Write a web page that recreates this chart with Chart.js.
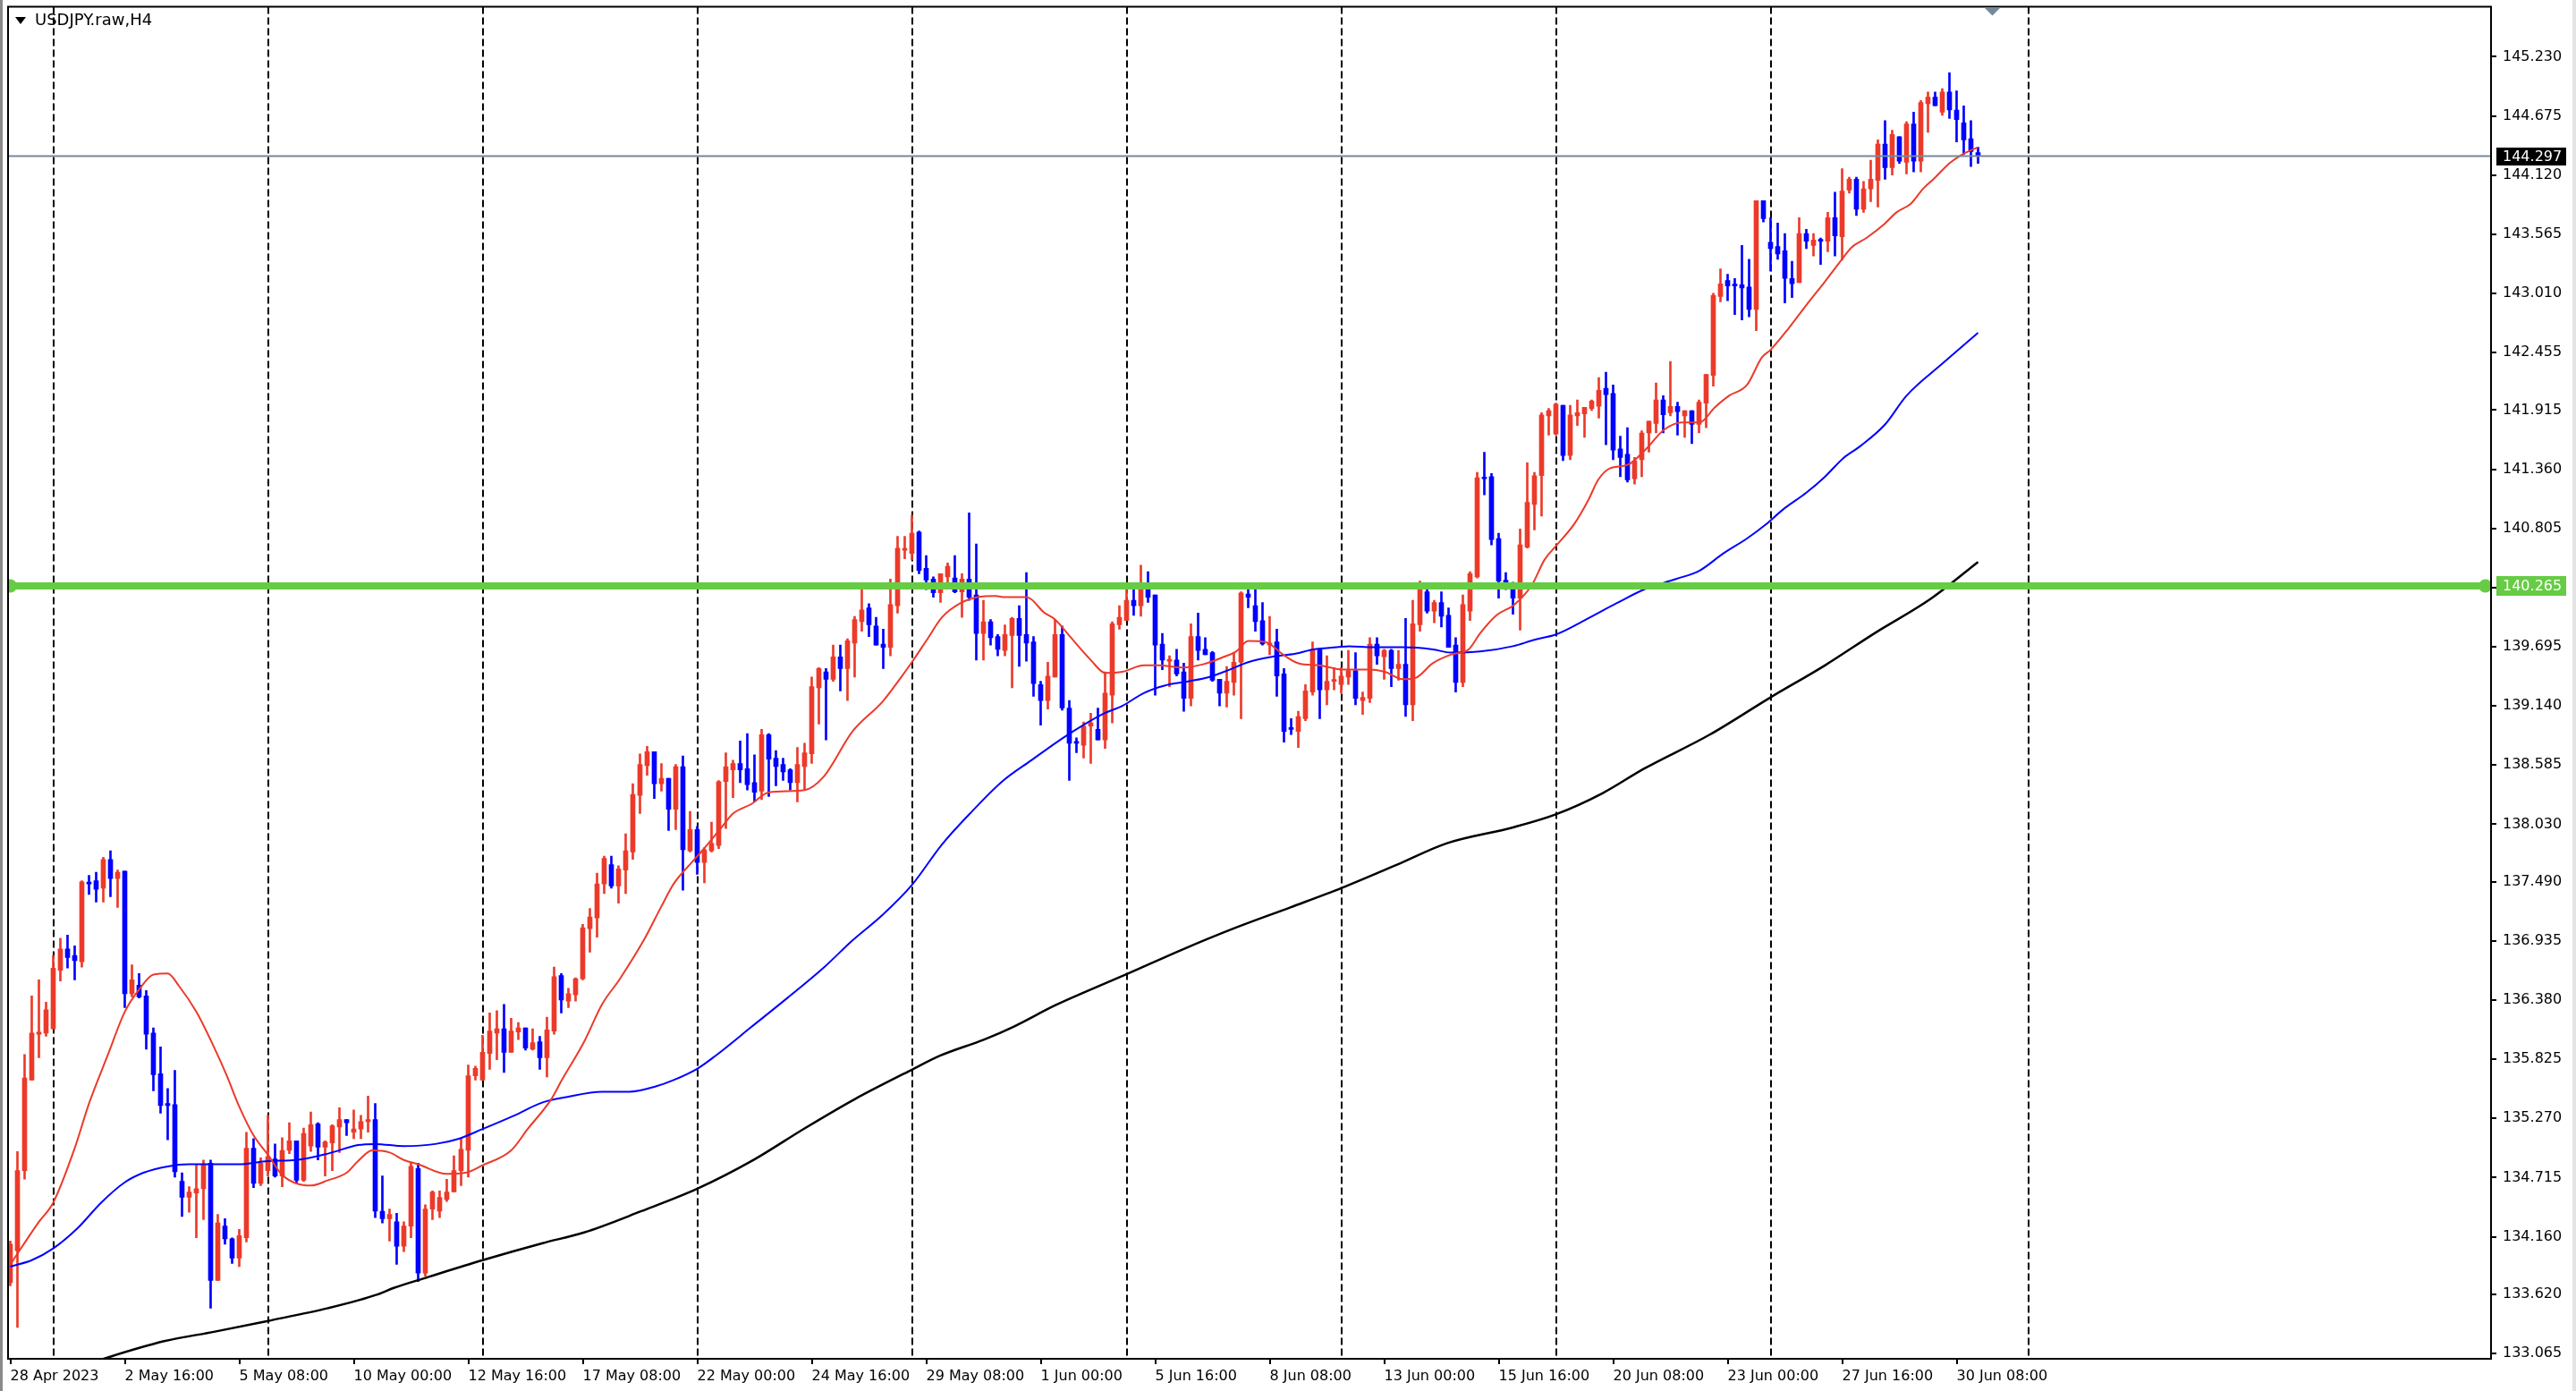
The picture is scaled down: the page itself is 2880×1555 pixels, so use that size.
<!DOCTYPE html>
<html>
<head>
<meta charset="utf-8">
<title>USDJPY.raw,H4</title>
<script src="https://cdn.jsdelivr.net/npm/chart.js@4.4.0/dist/chart.umd.min.js"></script>
<style>
  html, body { margin: 0; padding: 0; background: #fff; overflow: hidden; }
  canvas { display: block; }
</style>
</head>
<body>
<canvas id="chart" width="2880" height="1555"></canvas>
<script>
// H4 candles, bar 0 = 28 Apr 2023 00:00
var opens = [
  133.73,134.03,134.78,135.63,136.06,136.07,136.11,136.66,136.86,136.80,
  136.74,137.48,137.50,137.43,137.70,137.52,137.59,136.44,136.52,136.42,
  136.07,135.69,135.41,135.40,134.68,134.53,134.57,134.61,134.85,133.75,
  134.26,134.14,133.96,134.15,134.99,134.66,134.78,134.89,134.73,134.97,
  135.06,134.69,135.01,135.22,135.00,135.04,135.19,135.26,135.14,135.17,
  135.24,135.26,134.40,134.33,134.30,134.07,134.26,134.80,133.82,134.42,
  134.40,134.51,134.58,134.78,134.97,135.67,135.63,135.88,136.07,136.11,
  135.89,136.08,136.12,135.92,135.99,135.84,136.09,136.61,136.37,136.43,
  136.58,137.05,137.15,137.47,137.65,137.45,137.60,137.77,138.30,138.58,
  138.71,138.41,138.46,138.17,138.57,137.78,137.98,137.67,137.78,137.83,
  138.43,138.54,138.60,138.55,138.42,138.34,138.87,138.65,138.59,138.54,
  138.42,138.57,138.69,139.31,139.46,139.39,139.60,139.49,139.73,139.93,
  140.06,139.89,139.72,139.69,140.08,140.60,140.57,140.77,140.43,140.33,
  140.20,140.35,140.34,140.21,140.33,140.18,139.82,139.93,139.79,139.66,
  139.80,139.96,139.81,139.74,139.34,139.19,139.41,139.81,139.12,138.80,
  138.77,138.95,138.92,138.82,139.24,139.90,139.94,140.13,140.08,140.28,
  140.18,139.72,139.56,139.57,139.46,139.21,139.79,139.67,139.64,139.39,
  139.26,139.36,139.55,140.19,140.08,139.94,139.71,139.74,139.44,138.93,
  138.90,139.02,139.27,139.67,139.29,139.37,139.34,139.41,139.47,139.19,
  139.21,139.72,139.60,139.66,139.49,139.53,139.15,139.90,140.21,140.03,
  140.11,139.99,139.71,139.36,140.03,140.35,141.28,141.29,140.71,140.32,
  140.29,140.15,140.63,141.03,141.30,141.86,141.69,141.96,141.49,141.86,
  141.88,141.93,141.95,142.12,142.07,141.55,141.50,141.27,141.45,141.70,
  141.79,142.01,141.89,141.95,141.86,141.91,141.78,141.98,142.24,142.98,
  143.13,143.09,143.09,143.07,142.86,143.88,143.49,143.45,143.41,143.15,
  143.11,143.57,143.46,143.51,143.50,143.72,143.54,143.98,144.08,143.80,
  143.99,144.07,144.41,144.19,144.48,144.24,144.60,144.25,144.79,144.85,
  144.71,144.90,144.73,144.61,144.46,144.33
];
var highs = [
  134.12,134.96,135.87,136.42,136.57,136.36,136.80,136.96,136.99,136.89,
  137.50,137.55,137.58,137.72,137.78,137.60,137.59,136.71,136.63,136.47,
  136.12,135.94,135.55,135.72,134.76,134.63,134.84,134.88,134.88,134.37,
  134.33,134.15,134.23,135.14,135.08,134.90,135.30,135.03,135.09,135.23,
  135.06,135.18,135.33,135.23,135.06,135.21,135.37,135.26,135.35,135.30,
  135.48,135.41,134.73,134.42,134.38,134.30,134.85,134.85,134.46,134.59,
  134.59,134.70,134.92,135.08,135.77,135.76,136.05,136.26,136.28,136.34,
  136.21,136.17,136.12,136.11,136.04,136.22,136.69,136.63,136.49,136.59,
  137.09,137.24,137.57,137.73,137.73,137.64,137.94,138.41,138.69,138.76,
  138.71,138.60,138.46,138.59,138.67,138.15,138.01,137.81,138.05,138.44,
  138.70,138.63,138.81,138.88,138.68,138.92,138.88,138.72,138.65,138.55,
  138.75,138.79,139.41,139.50,139.49,139.71,139.71,139.77,139.98,140.24,
  140.10,139.97,139.86,140.33,140.73,140.73,140.93,140.78,140.55,140.35,
  140.38,140.48,140.55,140.38,140.95,140.66,140.13,139.95,139.81,139.90,
  139.97,140.08,140.39,139.79,139.37,139.55,139.95,139.89,139.19,138.84,
  138.99,139.07,139.12,139.46,139.93,140.08,140.28,140.24,140.46,140.40,
  140.18,139.82,139.61,139.67,139.54,139.91,140.01,139.78,139.65,139.39,
  139.51,139.64,140.21,140.26,140.24,140.11,139.98,139.86,139.49,139.02,
  139.09,139.34,139.74,139.68,139.61,139.50,139.50,139.66,139.64,139.27,
  139.78,139.78,139.67,139.67,139.66,139.96,140.13,140.31,140.29,140.13,
  140.21,140.06,139.78,140.18,140.40,141.33,141.52,141.32,140.76,140.39,
  140.30,140.80,141.42,141.33,141.89,141.93,141.98,141.96,141.96,142.01,
  141.94,142.01,142.22,142.27,142.15,141.67,141.75,141.47,141.72,141.81,
  142.17,142.05,142.37,141.99,141.91,141.91,142.01,142.25,143.01,143.24,
  143.19,143.15,143.46,143.33,143.88,143.88,143.72,143.67,143.57,143.31,
  143.72,143.61,143.57,143.53,143.77,143.96,144.18,144.10,144.10,144.06,
  144.26,144.45,144.63,144.54,144.48,144.62,144.71,144.82,144.90,144.90,
  144.93,145.08,144.91,144.77,144.63,144.38
];
var lows = [
  133.70,133.31,134.70,135.63,135.84,136.04,136.11,136.56,136.68,136.57,
  136.69,137.37,137.30,137.30,137.35,137.25,136.31,136.41,136.40,135.92,
  135.53,135.32,135.07,134.72,134.35,134.39,134.15,134.32,133.49,133.75,
  134.09,133.91,133.88,134.11,134.62,134.64,134.73,134.72,134.63,134.94,
  134.66,134.68,134.96,134.88,134.73,134.78,134.95,135.11,135.08,135.08,
  135.14,134.34,134.29,134.12,133.90,134.02,134.15,133.74,133.79,134.32,
  134.34,134.49,134.58,134.64,134.72,135.63,135.63,135.73,135.82,135.70,
  135.89,136.01,135.91,135.91,135.73,135.66,136.06,136.26,136.31,136.37,
  136.57,136.83,136.97,137.38,137.43,137.29,137.38,137.70,138.13,138.49,
  138.27,138.34,137.97,137.98,137.41,137.77,137.56,137.48,137.77,137.80,
  137.99,138.28,138.42,138.35,138.24,138.26,138.29,138.39,138.44,138.35,
  138.24,138.35,138.60,138.97,138.82,139.37,139.28,139.19,139.41,139.84,
  139.79,139.71,139.49,139.61,140.01,140.52,140.51,140.38,140.23,140.16,
  140.11,140.30,140.20,139.97,140.13,139.57,139.57,139.71,139.61,139.61,
  139.31,139.51,139.56,139.23,138.96,139.11,139.41,139.10,138.44,138.70,
  138.65,138.60,138.82,138.74,138.98,139.86,139.94,139.99,139.98,140.11,
  139.24,139.48,139.32,139.42,139.09,139.14,139.57,139.62,139.37,139.14,
  139.13,139.24,139.02,140.06,139.84,139.71,139.62,139.23,138.80,138.87,
  138.75,139.00,139.24,139.02,139.15,139.29,139.26,139.34,139.15,139.06,
  139.17,139.53,139.39,139.32,139.38,139.04,139.00,139.84,140.01,139.92,
  139.88,139.69,139.27,139.32,139.94,140.34,141.12,140.65,140.15,140.23,
  140.00,139.85,140.62,140.79,140.92,141.68,141.68,141.44,141.45,141.77,
  141.66,141.91,141.84,141.59,141.45,141.29,141.24,141.22,141.29,141.52,
  141.70,141.70,141.86,141.68,141.66,141.60,141.70,141.75,142.14,142.93,
  142.94,142.81,142.76,142.79,142.66,143.68,143.22,143.33,142.92,142.97,
  143.11,143.43,143.36,143.28,143.40,143.36,143.32,143.95,143.74,143.77,
  143.87,143.82,144.08,144.12,144.23,144.13,144.15,144.15,144.52,144.77,
  144.68,144.65,144.43,144.31,144.20,144.23
];
var closes = [
  134.09,134.78,135.65,136.07,136.08,136.29,136.68,136.86,136.78,136.75,
  137.49,137.47,137.42,137.70,137.52,137.58,136.44,136.57,136.41,136.06,
  135.68,135.39,135.39,134.77,134.53,134.58,134.61,134.84,133.75,134.29,
  134.14,133.96,134.17,134.99,134.66,134.85,134.91,134.73,134.97,135.06,
  134.69,135.13,135.21,135.00,135.05,135.20,135.26,135.23,135.17,135.24,
  135.26,134.40,134.33,134.37,134.07,134.26,134.82,133.82,134.42,134.58,
  134.53,134.58,134.78,134.98,135.67,135.74,135.89,136.09,136.11,135.89,
  136.09,136.12,135.93,135.98,135.84,136.10,136.60,136.38,136.44,136.58,
  137.06,137.16,137.47,137.71,137.45,137.61,137.78,138.31,138.59,138.71,
  138.41,138.46,138.17,138.57,137.79,137.98,137.67,137.79,137.85,138.43,
  138.57,138.60,138.54,138.40,138.33,138.87,138.64,138.57,138.52,138.42,
  138.59,138.70,139.32,139.49,139.39,139.60,139.49,139.75,139.95,140.04,
  139.90,139.71,139.69,140.09,140.62,140.61,140.76,140.41,140.32,140.20,
  140.38,140.45,140.21,140.33,140.16,139.82,139.93,139.78,139.67,139.81,
  139.96,139.80,139.73,139.35,139.19,139.42,139.81,139.12,138.79,138.79,
  138.95,138.98,138.82,139.26,139.91,139.97,140.13,140.08,140.28,140.16,
  139.71,139.57,139.57,139.44,139.21,139.79,139.66,139.62,139.38,139.26,
  139.37,139.55,140.20,140.16,139.93,139.72,139.73,139.42,138.90,138.92,
  139.04,139.28,139.67,139.29,139.37,139.38,139.42,139.47,139.21,139.22,
  139.72,139.61,139.66,139.49,139.53,139.15,139.91,140.23,140.03,140.11,
  139.98,139.69,139.36,140.09,140.38,141.28,141.27,140.70,140.31,140.28,
  140.15,140.65,141.05,141.30,141.87,141.91,141.97,141.49,141.87,141.89,
  141.94,142.00,142.10,142.06,141.54,141.47,141.26,141.44,141.70,141.81,
  142.01,141.87,141.95,141.90,141.91,141.78,141.99,142.25,142.99,143.10,
  143.08,143.08,143.06,142.86,143.88,143.71,143.43,143.38,143.15,143.10,
  143.57,143.50,143.51,143.50,143.72,143.55,143.97,144.08,143.80,143.99,
  144.08,144.41,144.19,144.50,144.25,144.60,144.25,144.80,144.85,144.77,
  144.90,144.73,144.64,144.45,144.34,144.30
];

// moving averages at sample bars
var redMaBars = [0,4,6,9,11,13.6,16,18,20,22,23.6,26,28.6,30.2,32,34,36,38,40,42,44.4,47,48.6,50.6,53,55,57,61,63.6,66,70,72.3,75.6,77,80.2,82.7,85.2,88.6,91,92.7,95.2,96.8,99.4,101,103.6,106,111,113.6,117.7,121.9,124.4,126,128.1,130.2,132.7,135.2,137.7,139,142,142.7,144.4,146,148.1,151,153,155.4,158.4,160.5,163.8,166.7,169.6,171.3,173,175.4,177.9,180,182.9,186.3,189.6,192.1,194.6,196.3,198.8,201.3,203.8,205.4,207.7,210.2,212.7,214.4,216,218.6,220.6,221.9,223.6,226,228.6,231.1,233.6,236.1,238.2,240.2,242.7,244.8,246,248.5,251,253.6,256.1,257.3,259.4,261.9,263.6,265.6,267.3,268.9,271,272.7,273.9,275];
var redMaValues = [133.90,134.30,134.48,134.99,135.41,135.86,136.27,136.48,136.62,136.63,136.51,136.27,135.92,135.68,135.38,135.11,134.93,134.74,134.66,134.64,134.69,134.76,134.87,134.97,134.95,134.88,134.84,134.75,134.76,134.83,134.97,135.17,135.45,135.62,135.99,136.34,136.58,136.95,137.26,137.47,137.67,137.79,138.00,138.13,138.22,138.33,138.35,138.47,138.90,139.18,139.40,139.55,139.76,139.97,140.10,140.16,140.17,140.16,140.16,140.14,140.02,139.95,139.79,139.57,139.45,139.46,139.52,139.52,139.50,139.53,139.60,139.65,139.75,139.74,139.62,139.54,139.52,139.48,139.48,139.46,139.39,139.40,139.54,139.62,139.67,139.82,139.99,140.09,140.28,140.51,140.64,140.85,141.08,141.26,141.37,141.40,141.55,141.73,141.80,141.80,141.94,142.05,142.15,142.41,142.48,142.68,142.90,143.12,143.34,143.44,143.53,143.66,143.77,143.85,143.99,144.09,144.23,144.31,144.35,144.38];

var blueMaBars = [0,3,6,9.4,12.7,16,18.6,22,25,32,36,40,44.4,48.6,51,55,59.4,62.7,66,70.2,74.4,77.7,82.7,86.5,90.2,92.7,96.1,98.6,103.6,108.6,113.6,117.7,121.9,126,130.2,134.4,138.6,142.7,146.9,150.2,152.9,155.4,158.4,161.3,164.6,167.5,170.4,173,176.3,179.6,182.1,185.4,187.1,190.4,194.6,198.8,201.3,205.4,210,213,216,220.2,224.4,228.6,232.8,236.1,239.4,242.7,245.3,247.7,251,253.6,256.1,258.6,262,265,270,275];
var blueMaValues = [133.88,133.94,134.05,134.24,134.48,134.67,134.76,134.82,134.84,134.84,134.87,134.88,134.94,135.02,135.03,135.01,135.03,135.08,135.17,135.29,135.42,135.47,135.52,135.52,135.57,135.63,135.74,135.86,136.13,136.40,136.68,136.94,137.18,137.46,137.84,138.15,138.43,138.63,138.83,138.97,139.07,139.14,139.26,139.33,139.37,139.41,139.48,139.55,139.60,139.63,139.67,139.69,139.70,139.69,139.69,139.67,139.64,139.65,139.70,139.76,139.81,139.95,140.10,140.24,140.33,140.41,140.57,140.71,140.84,140.98,141.14,141.29,141.46,141.58,141.78,142.05,142.35,142.64];

var blackMaBars = [10,12.3,21.5,28.6,36,44.4,51.4,53.6,58.3,66,74.4,80.2,88.2,96,103.6,111.1,118,125.8,130,136.1,140.2,146,150,155.9,164,170.9,178.9,186,193.8,200.7,210,215.9,222.5,228.3,237.5,246,253.6,260.5,268.5,275];
var blackMaValues = [132.95,133.00,133.18,133.27,133.37,133.49,133.62,133.68,133.78,133.94,134.10,134.20,134.40,134.61,134.87,135.18,135.45,135.72,135.86,136.01,136.13,136.33,136.45,136.62,136.86,137.05,137.25,137.43,137.65,137.85,138.00,138.12,138.32,138.55,138.87,139.22,139.52,139.82,140.15,140.49];

var bidPrice = 144.297;
var levelPrice = 140.265;
var levelFromBar = 0;
var levelToBar = 345.9;

var separatorBars = [6, 36, 66, 96, 126, 156, 186, 216, 246, 282];
var shiftBar = 277;

var xTickBars = [0,16,32,48,64,80,96,112,128,144,160,176,192,208,224,240,256,272];
var xTickLabels = ["28 Apr 2023","2 May 16:00","5 May 08:00","10 May 00:00","12 May 16:00","17 May 08:00","22 May 00:00","24 May 16:00","29 May 08:00","1 Jun 00:00","5 Jun 16:00","8 Jun 08:00","13 Jun 00:00","15 Jun 16:00","20 Jun 08:00","23 Jun 00:00","27 Jun 16:00","30 Jun 08:00"];

var yTicks = [133.065,133.620,134.160,134.715,135.270,135.825,136.380,136.935,137.490,138.030,138.585,139.140,139.695,140.250,140.805,141.360,141.915,142.455,143.010,143.565,144.120,144.675,145.230];

var X_MIN = -0.3125, X_MAX = 346.6875;
var Y_MIN = 133.015, Y_MAX = 145.699;

var UP = "#ec3a2a";
var DOWN = "#0000ff";
var LEVEL = "#66cc44";
var BID = "#778899";
var FONT = "DejaVu Sans";

function pts(bars, vals) {
  return bars.map(function (b, i) { return { x: b, y: vals[i] }; });
}

var candleColors = closes.map(function (c, i) { return c >= opens[i] ? UP : DOWN; });

var mtDecor = {
  id: "mtDecor",
  beforeDraw: function (chart) {
    var ctx = chart.ctx;
    ctx.save();
    ctx.fillStyle = "#ffffff";
    ctx.fillRect(0, 0, chart.width, chart.height);
    ctx.fillStyle = "#8a8a8a";
    ctx.fillRect(0, 0, 3, chart.height);
    ctx.fillStyle = "#e4e4e4";
    ctx.fillRect(chart.width - 4, 0, 4, chart.height);
    ctx.restore();
  },
  beforeDatasetsDraw: function (chart) {
    var ctx = chart.ctx, a = chart.chartArea, x = chart.scales.x;
    ctx.save();
    ctx.strokeStyle = "#000";
    ctx.lineWidth = 2;
    ctx.setLineDash([8, 4]);
    separatorBars.forEach(function (b) {
      var px = Math.round(x.getPixelForValue(b));
      ctx.beginPath();
      ctx.moveTo(px, a.top);
      ctx.lineTo(px, a.bottom);
      ctx.stroke();
    });
    ctx.restore();
  },
  afterDatasetsDraw: function (chart) {
    var ctx = chart.ctx, a = chart.chartArea, x = chart.scales.x, y = chart.scales.y;
    ctx.save();
    // frame
    ctx.strokeStyle = "#000";
    ctx.lineWidth = 2;
    ctx.strokeRect(a.left, a.top, a.right - a.left, a.bottom - a.top);

    // price labels on the axis
    ctx.font = "16px '" + FONT + "'";
    ctx.textBaseline = "middle";
    ctx.textAlign = "left";
    var yb = Math.round(y.getPixelForValue(bidPrice));
    ctx.fillStyle = "#000";
    ctx.fillRect(a.right + 6, yb - 10, 78, 20);
    ctx.fillStyle = "#fff";
    ctx.fillText(bidPrice.toFixed(3), a.right + 13, yb + 1);

    var yl = Math.round(y.getPixelForValue(levelPrice));
    ctx.fillStyle = LEVEL;
    ctx.fillRect(a.right + 6, yl - 11, 78, 22);
    ctx.fillStyle = "#fff";
    ctx.fillText(levelPrice.toFixed(3), a.right + 13, yl + 1);

    // symbol title
    ctx.fillStyle = "#000";
    ctx.beginPath();
    ctx.moveTo(17, 19);
    ctx.lineTo(29, 19);
    ctx.lineTo(23, 27);
    ctx.closePath();
    ctx.fill();
    ctx.font = "18px '" + FONT + "'";
    ctx.fillText("USDJPY.raw,H4", 39, 23);

    // chart shift marker
    var sx = x.getPixelForValue(shiftBar);
    ctx.fillStyle = BID;
    ctx.beginPath();
    ctx.moveTo(sx - 9, a.top + 1);
    ctx.lineTo(sx + 9, a.top + 1);
    ctx.lineTo(sx, a.top + 10);
    ctx.closePath();
    ctx.fill();
    ctx.restore();
  }
};

var ctx = document.getElementById("chart");
var myChart = new Chart(ctx, {
  type: "line",
  data: {
    datasets: [
      {
        type: "line",
        data: [{ x: levelFromBar, y: levelPrice }, { x: levelToBar, y: levelPrice }],
        borderColor: LEVEL,
        borderWidth: 8,
        pointRadius: 7.5,
        pointBackgroundColor: LEVEL,
        pointBorderWidth: 0,
        clip: 0,
        order: 0
      },
      {
        type: "line",
        data: [{ x: X_MIN, y: bidPrice }, { x: X_MAX, y: bidPrice }],
        borderColor: BID,
        borderWidth: 2,
        pointRadius: 0,
        order: 1
      },
      {
        type: "line",
        data: pts(redMaBars, redMaValues),
        borderColor: UP,
        borderWidth: 2,
        pointRadius: 0,
        cubicInterpolationMode: "monotone",
        order: 2
      },
      {
        type: "line",
        data: pts(blueMaBars, blueMaValues),
        borderColor: DOWN,
        borderWidth: 2,
        pointRadius: 0,
        cubicInterpolationMode: "monotone",
        order: 2
      },
      {
        type: "line",
        data: pts(blackMaBars, blackMaValues),
        borderColor: "#000",
        borderWidth: 2.5,
        pointRadius: 0,
        cubicInterpolationMode: "monotone",
        order: 2
      },
      {
        type: "bar",
        data: closes.map(function (c, i) { return { x: i, y: [opens[i], c] }; }),
        backgroundColor: candleColors,
        barThickness: 5,
        minBarLength: 2,
        grouped: false,
        borderWidth: 0,
        order: 3
      },
      {
        type: "bar",
        data: highs.map(function (h, i) { return { x: i, y: [lows[i], h] }; }),
        backgroundColor: candleColors,
        barThickness: 2,
        grouped: false,
        borderWidth: 0,
        order: 4
      }
    ]
  },
  options: {
    responsive: false,
    animation: false,
    events: [],
    layout: { padding: { left: 9, top: 5, right: 0, bottom: 0 } },
    plugins: {
      legend: { display: false },
      tooltip: { enabled: false }
    },
    scales: {
      x: {
        type: "linear",
        position: "bottom",
        offset: false,
        min: X_MIN,
        max: X_MAX,
        bounds: "data",
        afterBuildTicks: function (s) {
          s.ticks = xTickBars.map(function (v) { return { value: v }; });
        },
        afterFit: function (s) {
          s.height = 36;
          s.paddingLeft = 0;
          s.paddingRight = 0;
        },
        border: { display: false },
        grid: { offset: false, drawOnChartArea: false, drawTicks: true, tickLength: 6, color: "#000", lineWidth: 2 },
        ticks: {
          autoSkip: false,
          maxRotation: 0,
          minRotation: 0,
          align: "start",
          padding: 4,
          color: "#000",
          font: { family: FONT, size: 16 },
          callback: function (value, index) { return xTickLabels[index]; }
        }
      },
      y: {
        type: "linear",
        position: "right",
        offset: false,
        min: Y_MIN,
        max: Y_MAX,
        bounds: "data",
        afterBuildTicks: function (s) {
          s.ticks = yTicks.map(function (v) { return { value: v }; });
        },
        afterFit: function (s) {
          s.width = 95;
          s.paddingTop = 0;
          s.paddingBottom = 0;
        },
        border: { display: false },
        grid: { drawOnChartArea: false, drawTicks: true, tickLength: 6, color: "#000", lineWidth: 2 },
        ticks: {
          autoSkip: false,
          crossAlign: "near",
          padding: 7,
          color: "#000",
          font: { family: FONT, size: 16 },
          callback: function (value) { return Number(value).toFixed(3); }
        }
      }
    }
  },
  plugins: [mtDecor]
});
</script>
</body>
</html>
